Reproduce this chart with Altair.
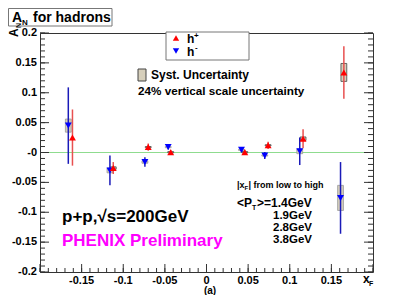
import altair as alt
import pandas as pd

# ---------------- data ----------------
hp_x = [-0.161, -0.112, -0.070, -0.043, 0.046, 0.074, 0.116, 0.165]
hp_y = [0.025, -0.026, 0.009, 0.0005, 0.0005, 0.012, 0.023, 0.134]
hp_err = [0.047, 0.010, 0.006, 0.004, 0.004, 0.006, 0.016, 0.044]
hp_sys = [0.0, 0.002, 0.001, 0.001, 0.001, 0.001, 0.003, 0.015]

hm_x = [-0.166, -0.116, -0.074, -0.046, 0.042, 0.070, 0.112, 0.161]
hm_y = [0.045, -0.030, -0.016, 0.009, 0.0045, -0.005, 0.002, -0.076]
hm_err = [0.064, 0.025, 0.008, 0.004, 0.004, 0.006, 0.023, 0.060]
hm_sys = [0.011, 0.004, 0.002, 0.001, 0.001, 0.001, 0.004, 0.021]

y_major = [-0.2, -0.15, -0.1, -0.05, 0.0, 0.05, 0.1, 0.15, 0.2]
y_labels = ["-0.2", "-0.15", "-0.1", "-0.05", "-0", "0.05", "0.1", "0.15", "0.2"]
x_major = [-0.2, -0.15, -0.1, -0.05, 0.0, 0.05, 0.1, 0.15, 0.2]
x_labels = ["", "-0.15", "-0.1", "-0.05", "0", "0.05", "0.1", "0.15", ""]
minor = [round(-0.2 + 0.01 * i, 2) for i in range(41)]

pt_labels = ["1.9GeV", "2.8GeV", "3.8GeV"]

# ---------------- layout ----------------
W, H = 333, 239
FONT = "Liberation Sans"
xs = alt.Scale(domain=[-0.2, 0.2], nice=False, zero=False)
ys = alt.Scale(domain=[-0.2, 0.2], nice=False, zero=False)

one = pd.DataFrame({"d": [0]})


def txt(text, x, y, size=12, bold=True, color="black", align="left", angle=0):
    kw = dict(text=text, font=FONT, fontSize=size, fontWeight="bold" if bold else "normal",
              color=color, align=align, baseline="alphabetic")
    if angle:
        kw["angle"] = angle
    return alt.Chart(one).mark_text(**kw).encode(x=alt.value(x), y=alt.value(y))


def box(x1, x2, y1, y2, fill="white", stroke="#666", sw=1):
    return alt.Chart(one).mark_rect(fill=fill, stroke=stroke, strokeWidth=sw).encode(
        x=alt.value(x1), x2=alt.value(x2), y=alt.value(y1), y2=alt.value(y2))


hp = pd.DataFrame({"x": hp_x, "y": hp_y, "err": hp_err, "sys": hp_sys})
hm = pd.DataFrame({"x": hm_x, "y": hm_y, "err": hm_err, "sys": hm_sys})


def sys_layer(df, stroke):
    return alt.Chart(df).transform_filter("datum.sys > 0").transform_calculate(
        lo="datum.y - datum.sys", hi="datum.y + datum.sys",
        xa="datum.x - 0.0035", xb="datum.x + 0.0035"
    ).mark_rect(fill="#d6cfbb", stroke=stroke, strokeWidth=0.8).encode(
        x=alt.X("xa:Q", scale=xs, axis=None), x2="xb:Q",
        y=alt.Y("lo:Q", scale=ys, axis=None), y2="hi:Q")


def err_layer(df, color):
    return alt.Chart(df).transform_calculate(
        lo="datum.y - datum.err", hi="datum.y + datum.err"
    ).mark_rule(color=color, strokeWidth=1.5).encode(
        x=alt.X("x:Q", scale=xs, axis=None),
        y=alt.Y("lo:Q", scale=ys, axis=None), y2="hi:Q")


def pt_layer(df, color, shape):
    return alt.Chart(df).mark_point(shape=shape, filled=True, size=48, color=color, opacity=1).encode(
        x=alt.X("x:Q", scale=xs, axis=None), y=alt.Y("y:Q", scale=ys, axis=None))


zero = alt.Chart(pd.DataFrame({"y": [0.0]})).mark_rule(color="#8fdc8f", strokeWidth=1).encode(
    y=alt.Y("y:Q", scale=ys, axis=None), x=alt.value(0), x2=alt.value(W))

ymaj = pd.DataFrame({"v": y_major, "lab": y_labels})
xmaj = pd.DataFrame({"v": x_major, "lab": x_labels})
mins = pd.DataFrame({"v": minor})
TC = "#333333"


def yticks(df, length, side):
    x1, x2 = (0, length) if side == "left" else (W - length, W)
    return alt.Chart(df).mark_rule(color=TC, strokeWidth=1).encode(
        y=alt.Y("v:Q", scale=ys, axis=None), x=alt.value(x1), x2=alt.value(x2))


def xticks(df, length):
    return alt.Chart(df).mark_rule(color=TC, strokeWidth=1).encode(
        x=alt.X("v:Q", scale=xs, axis=None), y=alt.value(H), y2=alt.value(H - length))


ylabs = alt.Chart(ymaj).mark_text(font=FONT, fontSize=11, fontWeight="bold", align="right",
                                  baseline="middle", color="black").encode(
    y=alt.Y("v:Q", scale=ys, axis=None), x=alt.value(-3), text="lab:N")
xlabs = alt.Chart(xmaj).mark_text(font=FONT, fontSize=11, fontWeight="bold", align="center",
                                  baseline="middle", color="black").encode(
    x=alt.X("v:Q", scale=xs, axis=None), y=alt.value(H + 9), text="lab:N")

ptdf = pd.DataFrame({"lab": pt_labels, "row": [0, 1, 2]})
ptlabs = alt.Chart(ptdf).transform_calculate(yy="186 + datum.row * 12").mark_text(
    font=FONT, fontSize=11.5, fontWeight="bold", align="right", baseline="alphabetic", color="black"
).encode(x=alt.value(272), y=alt.Y("yy:Q", scale=None), text="lab:N")

layers = [
    zero,
    yticks(mins, 5, "left"), yticks(ymaj, 9, "left"),
    yticks(mins, 5, "right"), yticks(ymaj, 9, "right"),
    xticks(mins, 4), xticks(xmaj, 8),
    ylabs, xlabs,
    sys_layer(hm, "#999999"), sys_layer(hp, "#444444"),
    err_layer(hm, "#1a1ab8"), err_layer(hp, "#e85050"),
    pt_layer(hm, "#0000ff", "triangle-down"), pt_layer(hp, "#ff0000", "triangle-up"),
    # title box
    box(-31.5, 72, -24.5, -7, stroke="#777"),
    txt("A", -28, -11, size=14), txt("N", -18, -8, size=8), txt("for hadrons", -7, -11, size=14),
    # axis titles
    txt("A", -22, 4, size=12, angle=270), txt("N", -19, -5, size=7, angle=270),
    txt("x", 323, 250, size=12), txt("F", 329, 253, size=7),
    txt("(a)", 170, 261, size=10, align="center"),
    # legend
    box(126, 209, -1, 27, stroke="#777"),
    alt.Chart(one).mark_point(shape="triangle-up", filled=True, size=40, color="#ff0000", opacity=1).encode(
        x=alt.value(136), y=alt.value(5)),
    alt.Chart(one).mark_point(shape="triangle-down", filled=True, size=40, color="#0000ff", opacity=1).encode(
        x=alt.value(136), y=alt.value(18)),
    txt("h", 147, 10, size=12), txt("+", 154, 5, size=8),
    txt("h", 147, 23, size=12), txt("-", 155, 17, size=8),
    # syst legend
    box(98, 106, 36, 48, fill="#d6cfbb", stroke="#444"),
    txt("Syst. Uncertainty", 111, 46, size=12),
    txt("24% vertical scale uncertainty", 98, 62, size=11.7),
    # pt annotation
    txt("|x", 197, 155, size=9), txt("F", 204.5, 157, size=6), txt("| from low to high", 208.5, 155, size=9),
    txt("<P", 197, 174, size=12), txt("T", 212, 177, size=7), txt(">=1.4GeV", 217, 174, size=12),
    ptlabs,
    # big labels
    txt("p+p,\u221as=200GeV", 22, 189, size=17),
    txt("PHENIX Preliminary", 22, 213, size=17, color="#ff00ff"),
]

chart = alt.layer(*layers).properties(
    width=W, height=H,
    padding={"left": 32, "top": 25, "right": 30, "bottom": 23},
    autosize="none",
).configure_view(stroke="#333333", strokeWidth=1)

chart.save("out.html", embed_options={"renderer": "svg", "actions": False})
